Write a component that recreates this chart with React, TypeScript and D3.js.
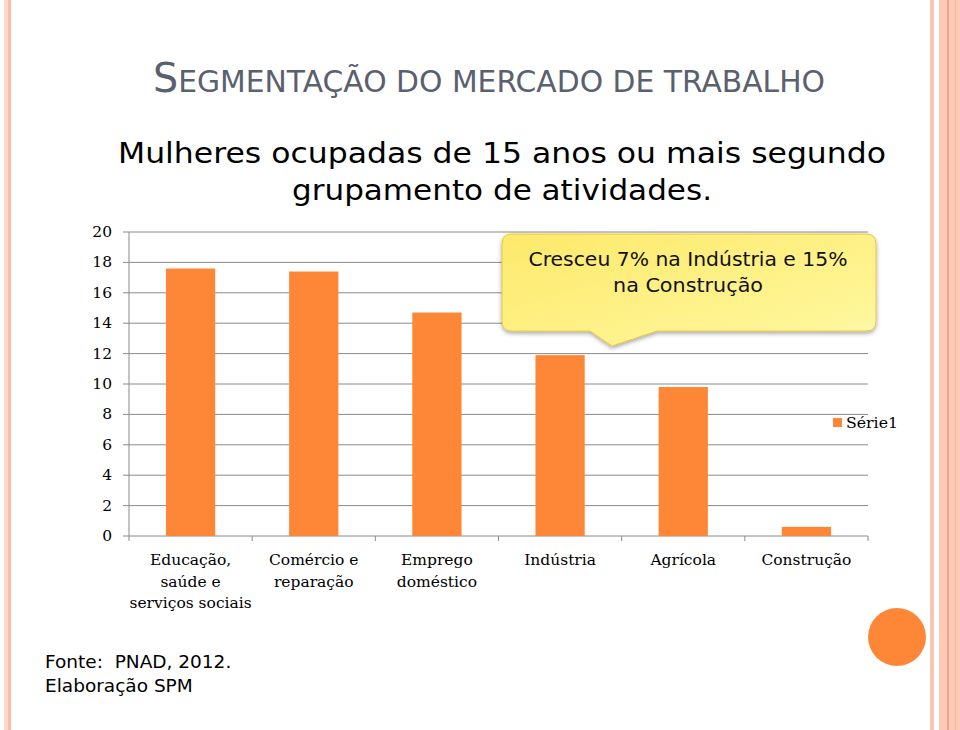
import React from "react";
import * as d3 from "d3";

const categories: string[][] = [
  ["Educação,", "saúde e", "serviços sociais"],
  ["Comércio e", "reparação"],
  ["Emprego", "doméstico"],
  ["Indústria"],
  ["Agrícola"],
  ["Construção"],
];
const values: number[] = [17.6, 17.4, 14.7, 11.9, 9.8, 0.6];
const yTicks: number[] = [0, 2, 4, 6, 8, 10, 12, 14, 16, 18, 20];
const seriesName = "Série1";
const titleText = "SEGMENTAÇÃO DO MERCADO DE TRABALHO";
const subtitleLines = ["Mulheres ocupadas de 15 anos ou mais segundo", "grupamento de atividades."];
const calloutLines = ["Cresceu 7% na Indústria e 15%", "na Construção"];
const footerLines = ["Fonte:  PNAD, 2012.", "Elaboração SPM"];

const ORANGE = "#fd8737";
const SERIF = "'DejaVu Serif', 'Liberation Serif', serif";
const SANS = "'DejaVu Sans', 'Open Sans', sans-serif";

export default function App() {
  const W = 960, H = 730;
  const left = 129, right = 868, top = 232, bottom = 536;
  const x = d3.scaleBand<number>().domain(d3.range(values.length)).range([left, right]).paddingInner(0.6).paddingOuter(0.3);
  const xo = d3.scaleBand<number>().domain(d3.range(values.length)).range([left, right]);
  const y = d3.scaleLinear().domain([0, 20]).range([bottom, top]);

  const cx0 = 502, cx1 = 876, cy0 = 234, cy1 = 331, r = 10;
  const calloutPath = `M${cx0 + r},${cy0} L${cx1 - r},${cy0} Q${cx1},${cy0} ${cx1},${cy0 + r} L${cx1},${cy1 - r} Q${cx1},${cy1} ${cx1 - r},${cy1} L657,${cy1} L612,346 L590,${cy1} L${cx0 + r},${cy1} Q${cx0},${cy1} ${cx0},${cy1 - r} L${cx0},${cy0 + r} Q${cx0},${cy0} ${cx0 + r},${cy0} Z`;

  return (
    <svg width={W} height={H} style={{ position: "absolute", left: 0, top: 0, background: "#fff" }}>
      <defs>
        <linearGradient id="cg" x1="0" y1="0" x2="1" y2="1">
          <stop offset="0" stopColor="#fde96a" />
          <stop offset="0.8" stopColor="#fef596" />
          <stop offset="1" stopColor="#fff9b0" />
        </linearGradient>
        <filter id="sh" x="-10%" y="-10%" width="120%" height="130%">
          <feDropShadow dx="0" dy="2" stdDeviation="2" floodColor="#000" floodOpacity="0.35" />
        </filter>
      </defs>
      <rect width={W} height={H} fill="#fff" />
      <rect x={4} y={0} width={4} height={H} fill="#fbdacd" />
      <rect x={8} y={0} width={3} height={H} fill="#f7bfa9" />
      <rect x={930} y={0} width={4} height={H} fill="#f8c6b2" />
      <rect x={939} y={0} width={21} height={H} fill="#fccab6" />
      <rect x={947} y={0} width={2} height={H} fill="#f4a584" />
      <rect x={955} y={0} width={1} height={H} fill="#f6b498" />

      <text x={153} y={92} fill="#5a606e" fontFamily={SANS} textLength={672} lengthAdjust="spacingAndGlyphs">
        <tspan fontSize={40}>{titleText[0]}</tspan>
        <tspan fontSize={30}>{titleText.slice(1)}</tspan>
      </text>
      {subtitleLines.map((t, i) => (
        <text key={i} x={502} y={163 + i * 37} textAnchor="middle" fontFamily={SANS} fontSize={28} fill="#000"
          textLength={i === 0 ? 768 : 420} lengthAdjust="spacingAndGlyphs">{t}</text>
      ))}

      {yTicks.map((t) => (
        <g key={t}>
          <line x1={left - 6} x2={right} y1={y(t)} y2={y(t)} stroke="#8a8a8a" strokeWidth={1} />
          <text x={112} y={y(t) + 5} textAnchor="end" fontFamily={SERIF} fontSize={15.5} fill="#000">{t}</text>
        </g>
      ))}
      <line x1={left} x2={left} y1={top} y2={bottom} stroke="#8a8a8a" />
      {d3.range(values.length + 1).map((i) => {
        const xx = i < values.length ? xo(i)! : right;
        return <line key={i} x1={xx} x2={xx} y1={bottom} y2={bottom + 5} stroke="#8a8a8a" />;
      })}

      {values.map((v, i) => (
        <rect key={i} x={x(i)} y={y(v)} width={x.bandwidth()} height={y(0) - y(v)} fill={ORANGE} />
      ))}

      {categories.map((lines, i) => (
        <text key={i} x={xo(i)! + xo.bandwidth() / 2} textAnchor="middle" fontFamily={SERIF} fontSize={15.5} fill="#000">
          {lines.map((l, j) => (
            <tspan key={j} x={xo(i)! + xo.bandwidth() / 2} y={565 + j * 21.5}>{l}</tspan>
          ))}
        </text>
      ))}

      <rect x={833} y={418} width={9} height={9} fill={ORANGE} />
      <text x={846} y={428} fontFamily={SERIF} fontSize={15.5} fill="#000" textLength={52} lengthAdjust="spacingAndGlyphs">{seriesName}</text>

      <path d={calloutPath} fill="url(#cg)" stroke="#e8c640" strokeWidth={1} filter="url(#sh)" />
      {calloutLines.map((t, i) => (
        <text key={i} x={688} y={266 + i * 26} textAnchor="middle" fontFamily={SANS} fontSize={19} fill="#111"
          textLength={i === 0 ? 319 : 150} lengthAdjust="spacingAndGlyphs">{t}</text>
      ))}

      {footerLines.map((t, i) => (
        <text key={i} x={45} y={668 + i * 24} fontFamily={SANS} fontSize={18.5} fill="#000" style={{ whiteSpace: "pre" }}>{t}</text>
      ))}
      <circle cx={897} cy={637} r={29} fill={ORANGE} />
    </svg>
  );
}
